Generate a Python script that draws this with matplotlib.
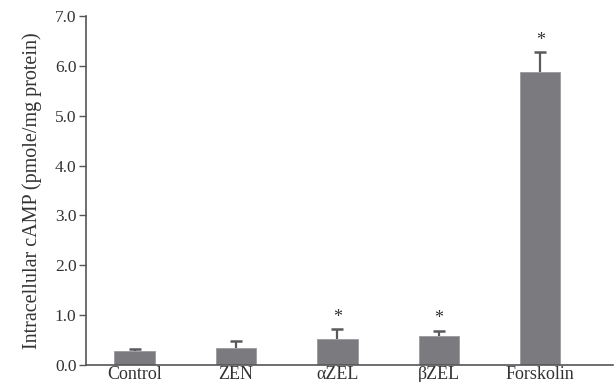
import numpy as np
import matplotlib.pyplot as plt

plt.rcParams['font.family'] = ['Liberation Serif', 'DejaVu Serif']

groups = ['Control', 'ZEN', 'αZEL', 'βZEL', 'Forskolin']
camp = [0.28, 0.34, 0.51, 0.57, 5.88]
sem = [0.03, 0.13, 0.20, 0.11, 0.39]
signif = [False, False, True, True, True]

fig = plt.figure(figsize=(6.15, 3.82), dpi=100)
ax = fig.add_axes([0.140, 0.045, 0.857, 0.913])

x = np.arange(len(groups))
top = np.array(camp) + np.array(sem)
ax.bar(x, camp, width=0.4, color='#7b7b7f', edgecolor='#9a9a9e', linewidth=0.6)
ax.vlines(x, camp, top, color='#5a5a5e', linewidth=1.6)
ax.plot(x, top, linestyle='none', marker='_', markersize=9, markeredgewidth=1.8, color='#5a5a5e')

for xi, t, s in zip(x, top, signif):
    if s:
        ax.text(xi, t + 0.24, '*', ha='center', va='center', fontsize=13, color='#333333')

ax.set_xlim(-0.48, 4.72)
ax.set_ylim(0, 7)
ticks = np.arange(0, 7.1, 1.0)
ax.set_yticks(ticks)
ax.set_yticklabels([f'{v:.1f}' for v in ticks], fontsize=12.5, color='#333333')
ax.set_xticks(x)
ax.set_xticklabels(groups, fontsize=13, color='#333333')
ax.tick_params(axis='x', length=0, pad=1)
ax.tick_params(axis='y', length=5, width=1, color='#555555', direction='out', pad=2)
ax.set_ylabel('Intracellular cAMP (pmole/mg protein)', fontsize=14.5, labelpad=9, color='#333333')

for side in ['top', 'right']:
    ax.spines[side].set_visible(False)
for side in ['left', 'bottom']:
    ax.spines[side].set_color('#555555')
    ax.spines[side].set_linewidth(1.2)

plt.savefig('out.png')
